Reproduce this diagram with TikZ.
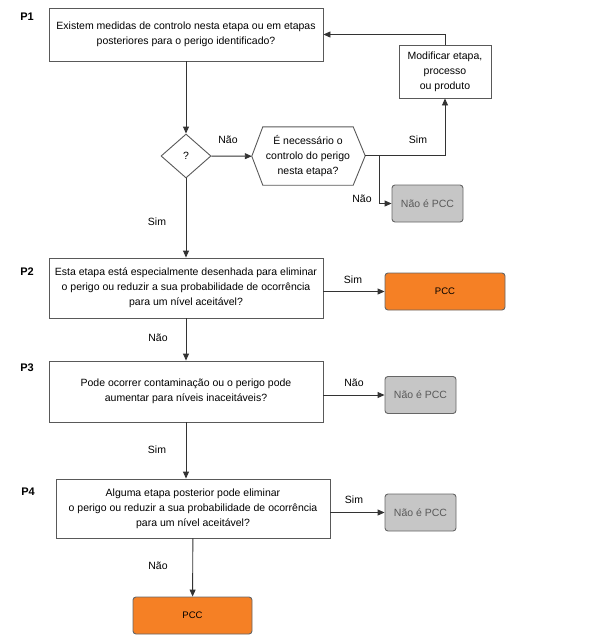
\documentclass[tikz,border=0pt]{standalone}
\usepackage{fontspec}
\setmainfont{Liberation Sans}
\usetikzlibrary{arrows.meta,shapes.geometric}
\definecolor{pccorange}{HTML}{F58025}
\definecolor{boxgray}{HTML}{C6C6C6}

\begin{document}
\begin{tikzpicture}[x=1pt, y=-1pt,
    every node/.style={font=\fontsize{10.5}{15}\selectfont},
    qbox/.style={draw=black!65, line width=0.9pt, fill=white, align=center, inner sep=0pt},
    endbox/.style={draw=black!60, line width=0.9pt, rounded corners=3pt, inner sep=0pt},
    nopcc/.style={endbox, fill=boxgray, text=black!65, minimum width=71pt, minimum height=37pt},
    pcc/.style={endbox, fill=pccorange, minimum height=37pt, font=\fontsize{9.5}{12}\selectfont},
    arr/.style={draw=black!80, line width=0.9pt, -{Triangle[length=7pt,width=6pt]}},
    lbl/.style={font=\fontsize{11}{13}\bfseries}]
      \useasboundingbox (0,0) rectangle (603,643);
      % question boxes
      \node[qbox, minimum width=274pt, minimum height=53pt] (p1) at (186,34.5) {Existem medidas de controlo nesta etapa ou em etapas\\posteriores para o perigo identificado?};
      \node[qbox, minimum width=274pt, minimum height=60pt] (p2) at (186,288) {Esta etapa está especialmente desenhada para eliminar\\o perigo ou reduzir a sua probabilidade de ocorrência\\para um nível aceitável?};
      \node[qbox, minimum width=274pt, minimum height=61pt] (p3) at (186,391.5) {Pode ocorrer contaminação ou o perigo pode\\aumentar para níveis inaceitáveis?};
      \node[qbox, minimum width=274pt, minimum height=59pt] (p4) at (193,508.5) {Alguma etapa posterior pode eliminar\\o perigo ou reduzir a sua probabilidade de ocorrência\\para um nível aceitável?};
      \node[qbox, minimum width=92pt, minimum height=53pt] (mod) at (445,71.5) {Modificar etapa,\\processo\\ou produto};
      \node[qbox, diamond, minimum width=50pt, minimum height=44pt, aspect=1.14] (q) at (186,156) {?};
      \node[align=center, minimum width=90pt, minimum height=58pt, inner sep=0pt] (need) at (308,156) {É necessário o\\controlo do perigo\\nesta etapa?};
      \draw[draw=black!65, line width=0.9pt] (need.north west) -- (need.north east) -- ++(12,29) coordinate (needE)
        -- (need.south east) -- (need.south west) -- ++(-11,-29) coordinate (needW) -- cycle;
      % end boxes
      \node[nopcc] (npcc1) at (427.5,203.5) {Não é PCC};
      \node[nopcc] (npcc2) at (420.5,395) {Não é PCC};
      \node[nopcc] (npcc3) at (420.5,512.5) {Não é PCC};
      \node[pcc, minimum width=120pt] (pcc1) at (445,291.5) {PCC};
      \node[pcc, minimum width=119pt] (pcc2) at (192.5,615.5) {PCC};
      % step labels
      \node[lbl] (l1) at (27,17) {P1};
      \node[lbl] (l2) at (27,272) {P2};
      \node[lbl] (l3) at (27,368) {P3};
      \node[lbl] (l4) at (28,492) {P4};
      % connectors
      \draw[arr] (p1) -- (q);
      \draw[arr] (q) -- (needW);
      \draw[arr] (needE) -| (mod.south);
      \draw[arr] (mod.north) |- (p1.east);
      \draw[arr] (needE) -- ++(14,0) |- (npcc1.west);
      \draw[arr] (q) -- (p2);
      \draw[arr] (p2.east |- pcc1.west) -- (pcc1.west);
      \draw[arr] (p2) -- (p3);
      \draw[arr] (p3.east |- npcc2.west) -- (npcc2.west);
      \draw[arr] (p3.south) -- (p3.south |- p4.north);
      \draw[arr] (p4.east |- npcc3.west) -- (npcc3.west);
      \draw[arr] (p4) -- (pcc2);
      % answers
      \node (a1) at (228,140) {Não};
      \node (a2) at (418,140) {Sim};
      \node (a3) at (362,199) {Não};
      \node (a4) at (157,222) {Sim};
      \node (a5) at (353,280) {Sim};
      \node (a6) at (158,338) {Não};
      \node (a7) at (354,383) {Não};
      \node (a8) at (157,450) {Sim};
      \node (a9) at (354,500) {Sim};
      \node (a10) at (158,566) {Não};
\end{tikzpicture}
\end{document}
